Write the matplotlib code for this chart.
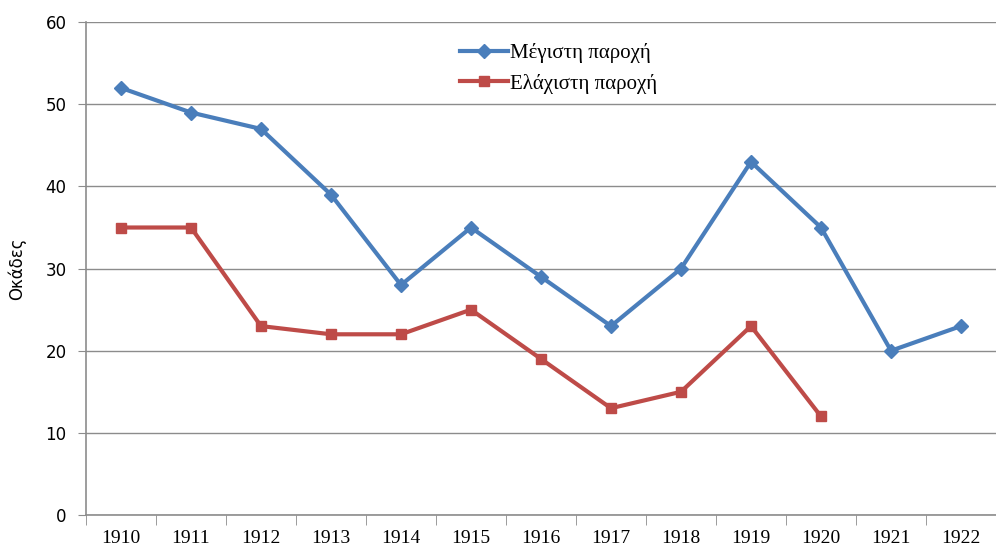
import numpy as np
import matplotlib.pyplot as plt
from matplotlib.ticker import FixedLocator

years = [1910, 1911, 1912, 1913, 1914, 1915, 1916, 1917, 1918, 1919, 1920, 1921, 1922]
max_supply = [52, 49, 47, 39, 28, 35, 29, 23, 30, 43, 35, 20, 23]
min_supply = [35, 35, 23, 22, 22, 25, 19, 13, 15, 23, 12]
yticks = [0, 10, 20, 30, 40, 50, 60]

fig = plt.figure(figsize=(9.96, 5.54), dpi=100)
ax = fig.add_axes([0.0863, 0.0704, 0.9137, 0.8896])

x = np.arange(len(years))
ax.plot(x, max_supply, color='#4a7ebb', lw=3, marker='D', ms=7, label='Μέγιστη παροχή')
ax.plot(x[:len(min_supply)], min_supply, color='#be4b48', lw=3, marker='s', ms=6.5,
        label='Ελάχιστη παροχή')

ax.set_xlim(-0.5, len(years) - 0.5)
ax.set_ylim(0, 60)
ax.set_yticks(yticks)
ax.set_yticklabels([str(v) for v in yticks], family='DejaVu Sans', fontsize=12)
ax.yaxis.grid(True, color='#8c8c8c', lw=1)
ax.set_axisbelow(True)

# category axis: labels in the middle, ticks on the boundaries
ax.set_xticks(x)
ax.set_xticklabels([str(y) for y in years], family='Liberation Serif', fontsize=14)
ax.xaxis.set_minor_locator(FixedLocator(np.arange(-0.5, len(years), 1)))
ax.tick_params(axis='x', which='major', length=0, pad=11)
ax.tick_params(axis='x', which='minor', length=7, color='#8c8c8c', direction='out')
ax.tick_params(axis='y', length=6, color='#8c8c8c', direction='out', pad=8)

for s in ['top', 'right']:
    ax.spines[s].set_visible(False)
for s in ['left', 'bottom']:
    ax.spines[s].set_color('#8c8c8c')
    ax.spines[s].set_linewidth(1.2)

ax.set_ylabel('Οκάδες', family='DejaVu Sans', fontsize=12, labelpad=14)

ax.legend(loc='upper left', bbox_to_anchor=(0.39, 0.995), frameon=False,
          prop={'family': 'Liberation Serif', 'size': 15}, handlelength=2.3,
          handletextpad=0.1, labelspacing=0.5)

fig.savefig('out.png', dpi=100)
